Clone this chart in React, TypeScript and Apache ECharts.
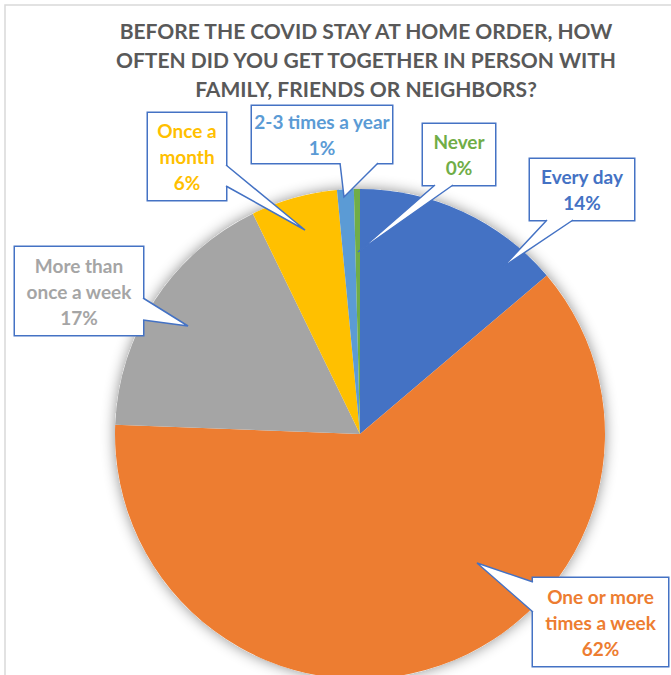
import React, { useEffect, useRef } from "react";
import * as echarts from "echarts";

const titleText = "BEFORE THE COVID STAY AT HOME ORDER, HOW\nOFTEN DID YOU GET TOGETHER IN PERSON WITH\nFAMILY, FRIENDS OR NEIGHBORS?";
const categories = ["Every day", "One or more times a week", "More than once a week", "Once a month", "2-3 times a year", "Never"];
const values = [13.8, 61.8, 17.2, 5.7, 1.1, 0.4];
const labelTexts = ["Every day", "One or more\ntimes a week", "More than\nonce a week", "Once a\nmonth", "2-3 times a year", "Never"];
const colors = ["#4472C4", "#ED7D31", "#A5A5A5", "#FFC000", "#5B9BD5", "#70AD47"];

// callout layout (styling): box [left, top, width, height], wedge [base1, tip, base2]
const callouts = [
  { box: [530, 159, 104, 61], wedge: [[547, 220], [503, 267], [573, 220]] },
  { box: [533, 578, 135, 88], wedge: [[533, 582], [477, 563], [533, 612]] },
  { box: [15, 247, 128, 88], wedge: [[143, 298], [188, 326], [143, 320]] },
  { box: [148, 113, 78, 87], wedge: [[226, 165], [305, 230], [226, 186]] },
  { box: [252, 106, 140, 57], wedge: [[340, 163], [344, 197], [378, 163]] },
  { box: [423, 124, 72, 61], wedge: [[435, 185], [358, 252], [453, 185]] },
];

const LINE_H = 26;
const BORDER = "#4472C4";

function inward(p: number[], box: number[]) {
  const [l, t, w, h] = box;
  const d = 2.5;
  if (Math.abs(p[1] - (t + h)) < 0.5) return [p[0], p[1] - d];
  if (Math.abs(p[1] - t) < 0.5) return [p[0], p[1] + d];
  if (Math.abs(p[0] - l) < 0.5) return [p[0] + d, p[1]];
  return [p[0] - d, p[1]];
}

export default function App() {
  const ref = useRef<HTMLDivElement>(null);
  useEffect(() => {
    document.body.style.margin = "0";
    if (!ref.current) return;
    const chart = echarts.init(ref.current, null, { renderer: "svg" });

    const wedgeGraphics: any[] = [];
    callouts.forEach((c) => {
      const [p1, tip, p2] = c.wedge;
      wedgeGraphics.push({
        type: "polygon",
        z: 100,
        silent: true,
        shape: { points: [inward(p1, c.box), p1, tip, p2, inward(p2, c.box)] },
        style: { fill: "#ffffff", stroke: null },
      });
      wedgeGraphics.push({
        type: "polyline",
        z: 101,
        silent: true,
        shape: { points: [p1, tip, p2] },
        style: { stroke: BORDER, lineWidth: 1.5, fill: null },
      });
    });

    const option: any = {
      animation: false,
      backgroundColor: "#ffffff",
      title: {
        text: titleText,
        left: 361,
        textAlign: "center",
        top: 11,
        textStyle: {
          fontFamily: "Lato",
          fontWeight: "bold",
          fontSize: 21,
          lineHeight: 29,
          color: "#595959",
        },
      },
      graphic: [
        {
          type: "rect",
          z: 0,
          silent: true,
          shape: { x: 5, y: 5, width: 760, height: 760 },
          style: { fill: null, stroke: "#D9D9D9", lineWidth: 1.5 },
        },
        ...wedgeGraphics,
      ],
      series: [
        {
          type: "pie",
          z: 1,
          silent: true,
          center: [360, 434],
          radius: 245,
          label: { show: false },
          labelLine: { show: false },
          itemStyle: { color: "#ffffff", shadowBlur: 14, shadowColor: "rgba(0,0,0,0.45)" },
          data: [{ value: 1, name: "" }],
        },
        {
          type: "pie",
          z: 2,
          center: [360, 434],
          radius: 245,
          startAngle: 90,
          clockwise: true,
          percentPrecision: 0,
          avoidLabelOverlap: false,
          itemStyle: { borderWidth: 0 },
          emphasis: { disabled: true },
          labelLine: { show: false },
          label: {
            show: true,
            position: "outside",
            fontFamily: "Lato",
            fontWeight: "bold",
            fontSize: 19,
            lineHeight: LINE_H,
            backgroundColor: "#ffffff",
            borderColor: BORDER,
            borderWidth: 1.5,
            formatter: (p: any) => labelTexts[p.dataIndex] + "\n" + p.percent + "%",
          },
          labelLayout: (params: any) => {
            const c = callouts[params.dataIndex];
            const [l, t, w, h] = c.box;
            return { x: l + w / 2, y: t + h / 2, align: "center", verticalAlign: "middle" };
          },
          data: categories.map((name, i) => {
            const [, , w, h] = callouts[i].box;
            const lines = labelTexts[i].split("\n").length + 1;
            return {
              name,
              value: values[i],
              itemStyle: { color: colors[i] },
              label: {
                color: colors[i],
                width: w,
                padding: [(h - lines * LINE_H) / 2, 0],
                align: "center",
              },
            };
          }),
        },
      ],
    };
    chart.setOption(option);
    return () => chart.dispose();
  }, []);
  return <div ref={ref} style={{ width: 671, height: 675 }} />;
}
